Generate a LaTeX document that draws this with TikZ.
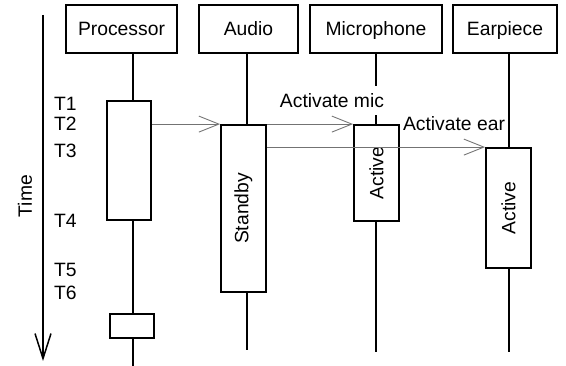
\documentclass[tikz,border=0pt]{standalone}
\usepackage{graphicx}
\usepackage{fontspec}
\setmainfont{Liberation Sans}
\usetikzlibrary{arrows.meta}
\tikzset{
  hdr/.style={draw, line width=1.8pt, minimum height=48pt, inner sep=0pt, text height=13.9pt, text depth=0pt, font=\fontsize{19.3}{22}\selectfont},
  actbox/.style={draw, fill=white, line width=1.8pt, inner sep=0pt, font=\fontsize{19.3}{22}\selectfont},
  life/.style={line width=1.5pt},
  msg/.style={draw=black!55, line width=0.9pt, -{Straight Barb[length=20pt,width=16pt,line width=0.9pt]}},
  msglabel/.style={fill=white, inner xsep=2pt, inner ysep=7pt, font=\fontsize{19.3}{22}\selectfont},
  tlabel/.style={anchor=west, inner sep=0pt, font=\fontsize{19.3}{22}\selectfont}
}
\begin{document}
\begin{tikzpicture}[x=1pt,y=-1pt]
\useasboundingbox (0,0) rectangle (566,366);
% headers
\node[hdr, minimum width=111pt] (P) at (121.5,29) {Processor};
\node[hdr, minimum width=99pt] (A) at (248.5,29) {Audio};
\node[hdr, minimum width=132pt] (M) at (376,29) {Microphone};
\node[hdr, minimum width=104pt] (E) at (505,29) {Earpiece};
% lifeline x positions and ends
\coordinate (px) at (133,0);
\coordinate (ax) at (247,0);
\coordinate (mx) at (376,0);
\coordinate (ex) at (509,0);
\coordinate (pend) at (133,366);
\coordinate (aend) at (247,350);
\coordinate (mend) at (376,352);
\coordinate (eend) at (509,352);
% activation boxes (positions only)
\coordinate (P1c) at (129,160.5);
\coordinate (P2c) at (132,326);
\coordinate (A1c) at (243.5,208.5);
\coordinate (M1c) at (376.5,173);
\coordinate (E1c) at (508.5,208);
% lifelines
\draw[life] (P.south -| px) -- (px |- 0,101);
\draw[life] (px |- 0,220) -- (pend);
\draw[life] (A.south -| ax) -- (ax |- 0,125);
\draw[life] (ax |- 0,292) -- (aend);
\draw[life] (M.south -| mx) -- (mx |- 0,125);
\draw[life] (mx |- 0,221) -- (mend);
\draw[life] (E.south -| ex) -- (ex |- 0,148);
\draw[life] (ex |- 0,268) -- (eend);
% activation boxes
\node[actbox, minimum width=44pt, minimum height=119pt] (P1) at (P1c) {};
\node[actbox, minimum width=44pt, minimum height=24pt] (P2) at (P2c) {};
\node[actbox, minimum width=45pt, minimum height=167pt] (A1) at (A1c) {\rotatebox{90}{Standby}};
\node[actbox, minimum width=45pt, minimum height=96pt] (M1) at (M1c) {\rotatebox{90}{Active}};
\node[actbox, minimum width=45pt, minimum height=120pt] (E1) at (E1c) {\rotatebox{90}{Active}};
% messages
\draw[msg] (P1.east |- A1.north) -- (A1.north west);
\draw[msg] (A1.north east) -- (M1.north west);
\draw[msg] (A1.east |- E1.north) -- (E1.north west);
\node[msglabel] (lmic) at (332,100.5) {Activate mic};
\node[msglabel] (lear) at (454,123.5) {Activate ear};
% time axis
\coordinate (ttop) at (43,15);
\coordinate (tbot) at (43,361);
\draw[line width=1.5pt, -{Straight Barb[length=25pt,width=16pt,line width=1.5pt]}] (ttop) -- (tbot);
\node[rotate=90, inner sep=0pt, font=\fontsize{19.3}{22}\selectfont] (time) at (25,196) {Time};
% time labels
\node[tlabel] (t1) at (54,103.5) {T1};
\node[tlabel] (t2) at (54,124) {T2};
\node[tlabel] (t3) at (54,151) {T3};
\node[tlabel] (t4) at (54,220.5) {T4};
\node[tlabel] (t5) at (54,270) {T5};
\node[tlabel] (t6) at (54,293) {T6};
\end{tikzpicture}
\end{document}
